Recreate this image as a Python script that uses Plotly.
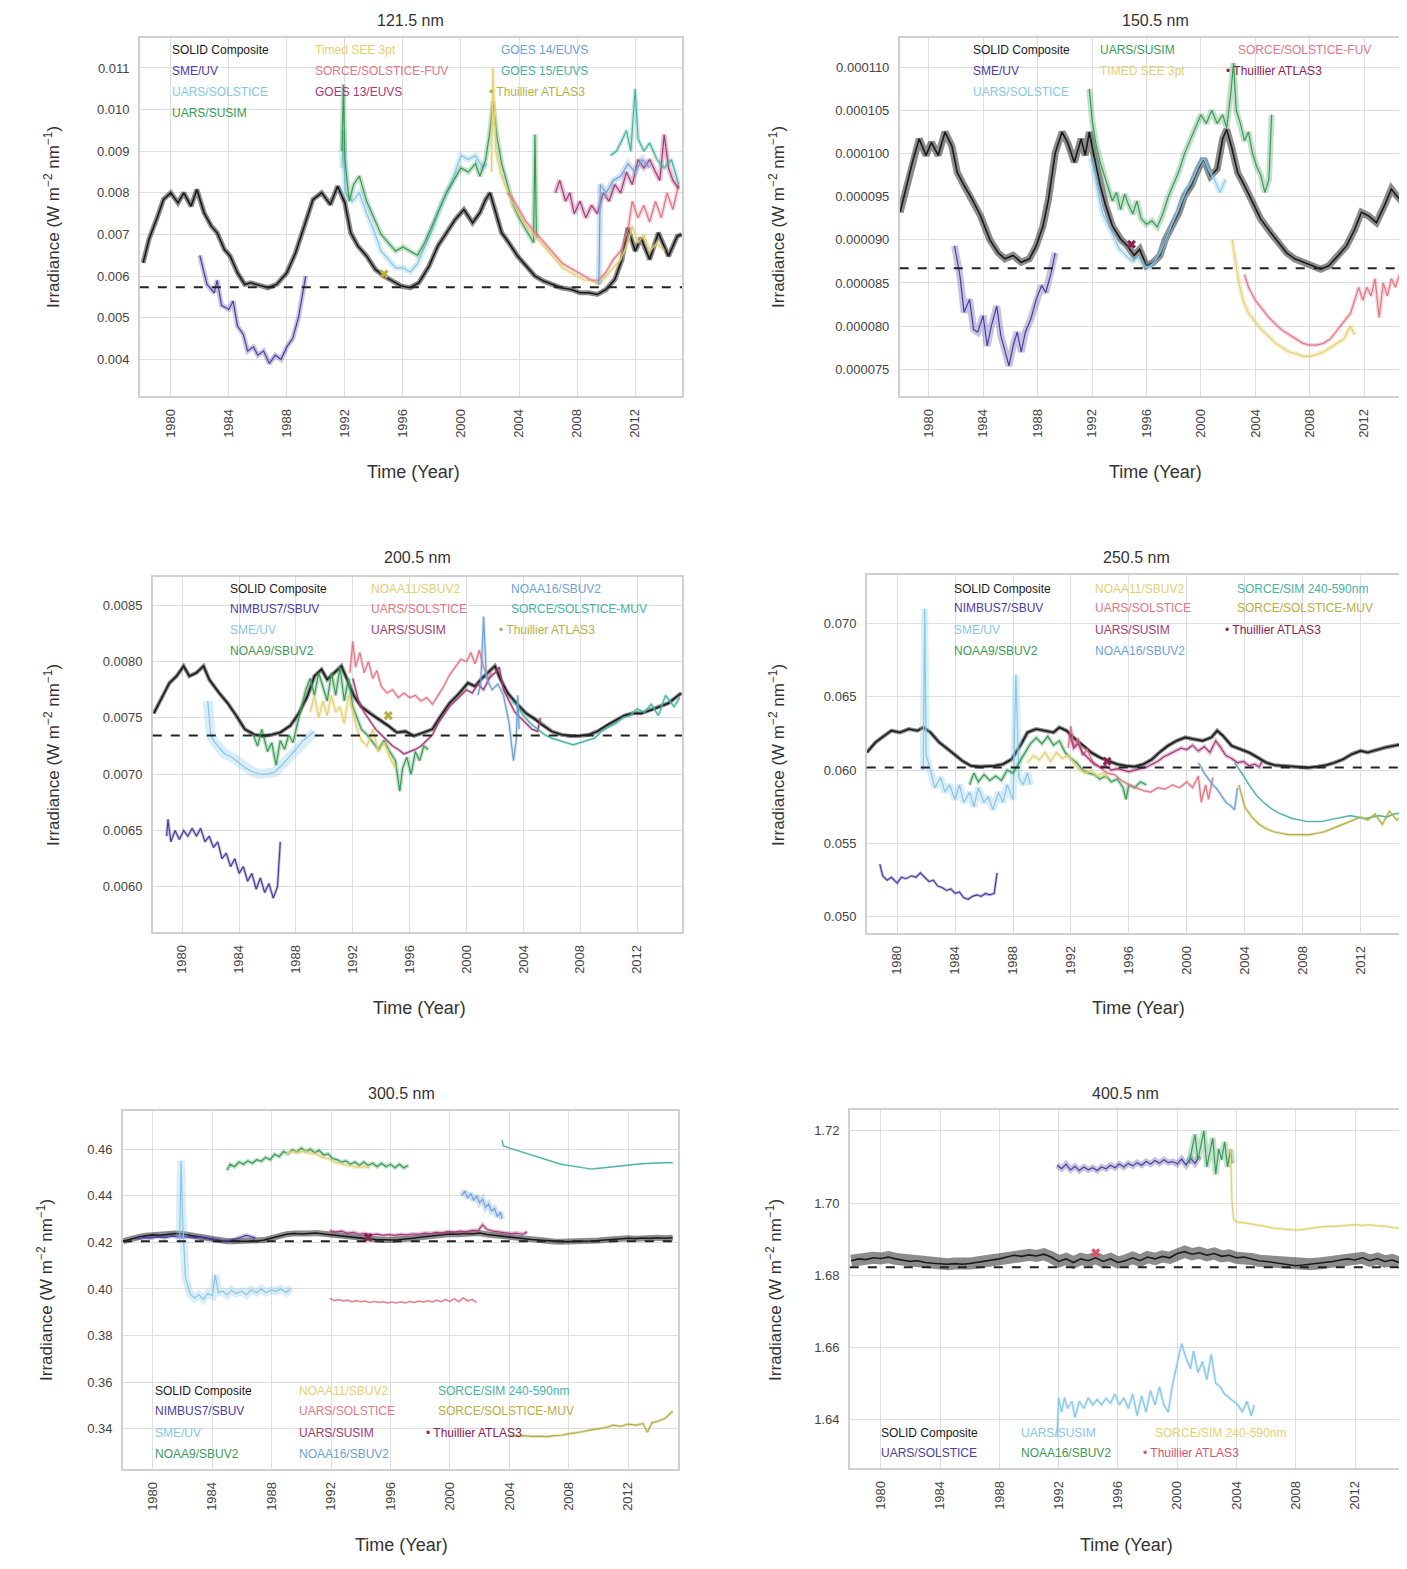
import plotly.graph_objects as go

# page size and the browser's default body margin
PAGE_W, PAGE_H = 1407, 1569
OFF = 8
W, H = PAGE_W - OFF, PAGE_H - 2 * OFF
FONT = 'Liberation Sans, Arial, sans-serif'

tick_years = [1980, 1984, 1988, 1992, 1996, 2000, 2004, 2008, 2012]

# colours
BLACK = '#1a1a1a'
INDIGO = '#4a3d9e'
SKY = '#86c6e8'
GREEN = '#3a9a55'
KHAKI = '#e3d070'
SALMON = '#e27786'
PLUM = '#a23a76'
STEEL = '#6d9fd6'
TEAL = '#45b3a3'
OLIVE = '#b5b044'
MAROON = '#8b2252'
RED = '#d9546a'

# ---------------- 121.5 nm ----------------
p1_solid_yr = [1978.1, 1978.5, 1979.1, 1979.5, 1980.0, 1980.5, 1980.9, 1981.4, 1981.8, 1982.3,
               1982.8, 1983.2, 1983.7, 1984.1, 1984.6, 1985.1, 1985.5, 1986.1, 1986.7, 1987.3,
               1988.0, 1988.6, 1989.2, 1989.8, 1990.4, 1991.0, 1991.5, 1992.0, 1992.4, 1992.9,
               1993.5, 1994.1, 1994.7, 1995.3, 1995.9, 1996.5, 1997.1, 1997.8, 1998.4, 1999.0,
               1999.6, 2000.2, 2000.8, 2001.3, 2001.7, 2002.0, 2002.4, 2002.8, 2003.3, 2003.9,
               2004.5, 2005.1, 2005.7, 2006.3, 2006.9, 2007.6, 2008.2, 2008.8, 2009.4, 2010.0,
               2010.6, 2011.1, 2011.5, 2012.0, 2012.4, 2013.0, 2013.6, 2014.3, 2014.9, 2015.2]
p1_solid = [0.00632, 0.00688, 0.00744, 0.00784, 0.0080, 0.00776, 0.0080, 0.00768, 0.00808, 0.00752,
            0.0072, 0.00704, 0.00664, 0.00648, 0.00608, 0.0058, 0.00584, 0.00578, 0.00572, 0.0058,
            0.00608, 0.00656, 0.0072, 0.00784, 0.0080, 0.00772, 0.00816, 0.00776, 0.00704, 0.00672,
            0.00648, 0.00616, 0.0060, 0.00588, 0.00576, 0.00572, 0.00584, 0.00624, 0.00672, 0.00704,
            0.00736, 0.0076, 0.00728, 0.00752, 0.00784, 0.0080, 0.00752, 0.00704, 0.0068, 0.00648,
            0.00624, 0.0060, 0.00588, 0.0058, 0.00572, 0.00568, 0.0056, 0.0056, 0.00556, 0.00568,
            0.00592, 0.0064, 0.00716, 0.0066, 0.00692, 0.0064, 0.00704, 0.00648, 0.00696, 0.0070]
p1_smeuv_yr = [1982.0, 1982.5, 1983.0, 1983.2, 1983.5, 1984.0, 1984.3, 1984.6, 1985.0, 1985.3, 1985.7,
               1986.0, 1986.4, 1986.8, 1987.2, 1987.6, 1988.0, 1988.4, 1988.8, 1989.1, 1989.3]
p1_smeuv = [0.0065, 0.0058, 0.0056, 0.0059, 0.0053, 0.0052, 0.0054, 0.0048, 0.0046, 0.0042, 0.0043,
            0.0041, 0.0042, 0.0039, 0.0041, 0.0040, 0.0043, 0.0045, 0.0050, 0.0056, 0.0060]
p1_susim_yr = [1991.8, 1991.9, 1992.0, 1992.3, 1992.6, 1993.0, 1993.5, 1994.0, 1994.5, 1995.0, 1995.5,
               1996.0, 1996.5, 1997.0, 1997.5, 1998.0, 1998.5, 1999.0, 1999.5, 2000.0, 2000.5, 2001.0,
               2001.3, 2001.7, 2002.0, 2002.2, 2002.5, 2002.8, 2003.2, 2003.6, 2004.0, 2004.5, 2005.0,
               2005.1, 2005.2]
p1_susim = [0.0090, 0.0106, 0.0088, 0.0078, 0.0082, 0.0084, 0.0078, 0.0074, 0.0070, 0.0068, 0.0066,
            0.0067, 0.0066, 0.0065, 0.0068, 0.0072, 0.0076, 0.0080, 0.0083, 0.0086, 0.0085, 0.0087,
            0.0084, 0.0088, 0.0095, 0.0102, 0.0093, 0.0087, 0.0082, 0.0077, 0.0074, 0.0071, 0.0068,
            0.0094, 0.0069]
p1_solstice_yr = [1991.8, 1991.9, 1992.0, 1992.5, 1993.0, 1993.5, 1994.0, 1994.5, 1995.0, 1995.5, 1996.0,
                  1996.5, 1997.0, 1997.5, 1998.0, 1998.5, 1999.0, 1999.5, 2000.0, 2000.5, 2001.0, 2001.5,
                  2001.8]
p1_solstice = [0.0086, 0.0095, 0.0080, 0.0078, 0.0080, 0.0075, 0.0071, 0.0066, 0.0064, 0.0062, 0.0062,
               0.0061, 0.0063, 0.0067, 0.0071, 0.0076, 0.0080, 0.0084, 0.0089, 0.0088, 0.0089, 0.0086,
               0.0087]
p1_timed_yr = [2002.1, 2002.2, 2002.4, 2002.7, 2003.0, 2003.5, 2004.0, 2004.5, 2005.0, 2005.5, 2006.0,
               2006.5, 2007.0, 2007.5, 2008.0, 2008.5, 2009.0, 2009.5, 2010.0, 2010.5, 2011.0, 2011.5,
               2011.8, 2012.2, 2012.6, 2013.0, 2013.5, 2014.0]
p1_timed = [0.0085, 0.0110, 0.0090, 0.0085, 0.0082, 0.0078, 0.0075, 0.0072, 0.0070, 0.0068, 0.0066,
            0.0064, 0.0062, 0.0061, 0.0060, 0.0059, 0.0059, 0.0058, 0.0060, 0.0062, 0.0064, 0.0068,
            0.0072, 0.0068, 0.0070, 0.0066, 0.0068, 0.0066]
p1_fuv_yr = [2003.2, 2003.5, 2004.0, 2004.5, 2005.0, 2005.5, 2006.0, 2006.5, 2007.0, 2007.5, 2008.0,
             2008.5, 2009.0, 2009.5, 2010.0, 2010.5, 2011.0, 2011.5, 2011.8, 2012.2, 2012.6, 2013.0,
             2013.4, 2013.8, 2014.2, 2014.6, 2015.0]
p1_fuv = [0.0080, 0.0079, 0.0076, 0.0073, 0.0071, 0.0069, 0.0067, 0.0065, 0.0063, 0.0062, 0.0061,
          0.0060, 0.0059, 0.0059, 0.0061, 0.0064, 0.0066, 0.0071, 0.0078, 0.0074, 0.0077, 0.0073,
          0.0078, 0.0074, 0.0080, 0.0076, 0.0082]
p1_goes13_yr = [2006.5, 2006.8, 2007.2, 2007.5, 2007.8, 2008.2, 2008.6, 2009.0, 2009.4, 2009.8, 2010.2,
                2010.6, 2011.0, 2011.4, 2011.8, 2012.2, 2012.6, 2013.0, 2013.4, 2013.7, 2014.0, 2014.3,
                2014.6, 2015.0]
p1_goes13 = [0.0080, 0.0083, 0.0078, 0.0080, 0.0075, 0.0078, 0.0074, 0.0077, 0.0075, 0.0080, 0.0078,
             0.0082, 0.0080, 0.0085, 0.0082, 0.0088, 0.0086, 0.0088, 0.0085, 0.0083, 0.0094, 0.0086,
             0.0083, 0.0081]
p1_goes14_yr = [2009.5, 2009.6, 2010.0, 2010.5, 2011.0, 2011.5, 2012.0, 2012.5, 2013.0]
p1_goes14 = [0.0058, 0.0082, 0.0080, 0.0083, 0.0084, 0.0087, 0.0085, 0.0088, 0.0086]
p1_goes15_yr = [2010.3, 2010.7, 2011.0, 2011.4, 2011.7, 2012.0, 2012.2, 2012.6, 2013.0, 2013.5, 2014.0,
                2014.5, 2015.0]
p1_goes15 = [0.0089, 0.0090, 0.0092, 0.0095, 0.0090, 0.0105, 0.0093, 0.0090, 0.0092, 0.0088, 0.0086,
             0.0088, 0.0082]
p1_thuillier_yr = [1994.7]
p1_thuillier = [0.00605]
p1_floor = 0.00573

# ---------------- 150.5 nm ----------------
p2_solid_yr = [1977.9, 1978.4, 1978.8, 1979.3, 1979.8, 1980.2, 1980.7, 1981.2, 1981.7, 1982.1,
               1982.6, 1983.2, 1983.8, 1984.5, 1985.1, 1985.6, 1986.2, 1986.8, 1987.4, 1987.9,
               1988.4, 1988.8, 1989.3, 1989.8, 1990.2, 1990.7, 1991.2, 1991.5, 1991.8, 1992.1,
               1992.6, 1993.0, 1993.5, 1994.1, 1994.6, 1995.1, 1995.5, 1996.0, 1996.5, 1997.0,
               1997.4, 1997.9, 1998.4, 1998.8, 1999.3, 1999.8, 2000.2, 2000.7, 2001.2, 2001.6,
               2001.9, 2002.3, 2002.7, 2003.2, 2003.8, 2004.4, 2005.1, 2005.7, 2006.3, 2006.9,
               2007.6, 2008.2, 2008.8, 2009.4, 2010.1, 2010.7, 2011.3, 2011.8, 2012.3, 2012.9,
               2013.5, 2014.0, 2014.4, 2015.0]
p2_solid = [93.2e-6, 96.3e-6, 99.0e-6, 101.7e-6, 99.8e-6, 101.3e-6, 99.8e-6, 102.5e-6, 100.9e-6, 97.8e-6,
            96.3e-6, 94.7e-6, 92.8e-6, 90.0e-6, 88.5e-6, 87.8e-6, 88.2e-6, 87.4e-6, 87.8e-6, 89.3e-6,
            91.6e-6, 94.7e-6, 100.1e-6, 102.5e-6, 101.3e-6, 99.0e-6, 101.7e-6, 99.8e-6, 102.5e-6, 100.1e-6,
            96.3e-6, 94.0e-6, 91.6e-6, 90.1e-6, 89.3e-6, 88.2e-6, 88.9e-6, 87.0e-6, 87.4e-6, 88.2e-6,
            90.1e-6, 91.6e-6, 93.2e-6, 95.1e-6, 96.3e-6, 98.2e-6, 99.4e-6, 97.4e-6, 98.2e-6, 101.7e-6,
            102.8e-6, 100.5e-6, 97.8e-6, 96.3e-6, 94.3e-6, 92.4e-6, 90.9e-6, 89.7e-6, 88.5e-6, 87.8e-6,
            87.4e-6, 87.0e-6, 86.6e-6, 87.0e-6, 88.2e-6, 89.3e-6, 91.2e-6, 93.2e-6, 92.8e-6, 92.0e-6,
            94.0e-6, 95.9e-6, 95.1e-6, 94.0e-6]
p2_smeuv_yr = [1981.9, 1982.0, 1982.3, 1982.6, 1983.0, 1983.3, 1983.6, 1984.0, 1984.3, 1984.6, 1985.0,
               1985.3, 1985.6, 1985.9, 1986.2, 1986.5, 1986.8, 1987.1, 1987.5, 1987.9, 1988.3, 1988.6,
               1989.0, 1989.3]
p2_smeuv = [89.3e-6, 88.5e-6, 85.8e-6, 81.6e-6, 83.1e-6, 79.6e-6, 79.3e-6, 81.2e-6, 77.7e-6, 80.0e-6,
            82.3e-6, 78.9e-6, 77.0e-6, 75.4e-6, 77.7e-6, 79.3e-6, 77.0e-6, 79.3e-6, 80.8e-6, 83.1e-6,
            84.7e-6, 83.9e-6, 86.2e-6, 88.5e-6]
p2_susim_yr = [1991.8, 1992.0, 1992.3, 1992.6, 1992.9, 1993.2, 1993.5, 1993.8, 1994.1, 1994.4, 1994.7,
               1995.0, 1995.3, 1995.6, 1996.0, 1996.4, 1996.8, 1997.2, 1997.6, 1998.0, 1998.4, 1998.8,
               1999.2, 1999.6, 2000.0, 2000.4, 2000.8, 2001.2, 2001.6, 2001.9, 2002.2, 2002.4, 2002.6,
               2002.9, 2003.2, 2003.5, 2003.8, 2004.1, 2004.4, 2004.7, 2005.0, 2005.2]
p2_susim = [107.5e-6, 104.0e-6, 101.0e-6, 99.0e-6, 97.5e-6, 96.0e-6, 94.5e-6, 95.5e-6, 93.5e-6, 95.3e-6,
            94.0e-6, 93.0e-6, 94.5e-6, 92.5e-6, 91.8e-6, 92.2e-6, 91.5e-6, 93.0e-6, 95.0e-6, 96.5e-6,
            98.0e-6, 100.0e-6, 101.5e-6, 103.0e-6, 104.5e-6, 103.5e-6, 105.0e-6, 103.5e-6, 104.5e-6,
            103.0e-6, 107.0e-6, 110.5e-6, 105.0e-6, 103.5e-6, 101.5e-6, 102.5e-6, 100.0e-6, 98.5e-6,
            97.5e-6, 95.5e-6, 97.0e-6, 104.5e-6]
p2_solstice_yr = [1991.9, 1992.2, 1992.5, 1992.8, 1993.1, 1993.4, 1993.7, 1994.0, 1994.3, 1994.6, 1995.0,
                  1995.4, 1995.8, 1996.2, 1996.6, 1997.0, 1997.4, 1997.8, 1998.2, 1998.6, 1999.0, 1999.4,
                  1999.8, 2000.2, 2000.6, 2001.0, 2001.4, 2001.8]
p2_solstice = [99.5e-6, 97.5e-6, 95.0e-6, 93.0e-6, 92.0e-6, 91.0e-6, 90.0e-6, 89.0e-6, 88.5e-6, 88.0e-6,
               87.5e-6, 88.0e-6, 87.0e-6, 86.8e-6, 87.5e-6, 88.5e-6, 90.0e-6, 91.5e-6, 93.0e-6, 94.5e-6,
               96.0e-6, 97.0e-6, 98.5e-6, 99.5e-6, 98.0e-6, 97.0e-6, 95.5e-6, 97.0e-6]
p2_timed_yr = [2002.3, 2002.5, 2002.8, 2003.1, 2003.5, 2004.0, 2004.5, 2005.0, 2005.5, 2006.0, 2006.5,
               2007.0, 2007.5, 2008.0, 2008.5, 2009.0, 2009.5, 2010.0, 2010.5, 2011.0, 2011.3]
p2_timed = [90.0e-6, 88.0e-6, 85.0e-6, 83.0e-6, 81.5e-6, 80.5e-6, 79.5e-6, 78.8e-6, 78.0e-6, 77.5e-6,
            77.0e-6, 76.8e-6, 76.5e-6, 76.5e-6, 76.7e-6, 77.0e-6, 77.5e-6, 78.0e-6, 78.5e-6, 80.0e-6,
            79.0e-6]
p2_fuv_yr = [2003.2, 2003.5, 2004.0, 2004.5, 2005.0, 2005.5, 2006.0, 2006.5, 2007.0, 2007.5, 2008.0,
             2008.5, 2009.0, 2009.5, 2010.0, 2010.5, 2011.0, 2011.3, 2011.6, 2011.9, 2012.2, 2012.5,
             2012.8, 2013.1, 2013.4, 2013.7, 2014.0, 2014.3, 2014.6, 2015.0]
p2_fuv = [86.0e-6, 84.5e-6, 83.0e-6, 82.0e-6, 81.0e-6, 80.2e-6, 79.5e-6, 79.0e-6, 78.5e-6, 78.0e-6,
          77.8e-6, 77.8e-6, 78.0e-6, 78.5e-6, 79.5e-6, 80.5e-6, 81.5e-6, 83.0e-6, 84.5e-6, 83.0e-6,
          84.5e-6, 83.5e-6, 85.5e-6, 81.0e-6, 85.0e-6, 83.5e-6, 85.5e-6, 84.5e-6, 86.0e-6, 85.0e-6]
p2_thuillier_yr = [1994.9]
p2_thuillier = [89.5e-6]
p2_floor = 86.7e-6

# ---------------- 200.5 nm ----------------
p3_solid_yr = [1978.0, 1978.5, 1979.1, 1979.6, 1980.1, 1980.5, 1981.0, 1981.5, 1981.9, 1982.6,
               1983.2, 1983.8, 1984.4, 1985.1, 1985.7, 1986.3, 1986.9, 1987.6, 1988.2, 1988.8,
               1989.3, 1989.8, 1990.2, 1990.7, 1991.2, 1991.6, 1992.1, 1992.6, 1993.2, 1993.8,
               1994.5, 1995.1, 1995.7, 1996.3, 1997.0, 1997.6, 1998.2, 1998.8, 1999.5, 2000.1,
               2000.6, 2001.0, 2001.5, 2002.0, 2002.4, 2002.9, 2003.5, 2004.2, 2004.8, 2005.4,
               2006.0, 2006.7, 2007.3, 2007.9, 2008.6, 2009.2, 2009.8, 2010.4, 2011.1, 2011.7,
               2012.3, 2013.0, 2013.6, 2014.2, 2014.8, 2015.1]
p3_solid = [0.00754, 0.00766, 0.00781, 0.00787, 0.00796, 0.00787, 0.00790, 0.00796, 0.00784, 0.00772,
            0.00763, 0.00752, 0.00740, 0.00735, 0.00734, 0.00735, 0.00737, 0.00743, 0.00754, 0.00769,
            0.00787, 0.00793, 0.00784, 0.00790, 0.00796, 0.00784, 0.00769, 0.00760, 0.00754, 0.00749,
            0.00743, 0.00737, 0.00738, 0.00734, 0.00737, 0.00740, 0.00752, 0.00763, 0.00772, 0.00781,
            0.00778, 0.00784, 0.00790, 0.00796, 0.00784, 0.00772, 0.00763, 0.00754, 0.00749, 0.00743,
            0.00738, 0.00735, 0.00734, 0.00734, 0.00735, 0.00738, 0.00743, 0.00747, 0.00752, 0.00754,
            0.00754, 0.00757, 0.00760, 0.00763, 0.00769, 0.00772]
p3_nimbus_yr = [1978.9, 1979.0, 1979.2, 1979.5, 1979.8, 1980.1, 1980.4, 1980.7, 1981.0, 1981.3, 1981.6,
                1981.9, 1982.2, 1982.5, 1982.8, 1983.1, 1983.4, 1983.7, 1984.0, 1984.3, 1984.6, 1984.9,
                1985.2, 1985.5, 1985.8, 1986.1, 1986.4, 1986.7, 1986.9]
p3_nimbus = [0.00645, 0.00660, 0.00640, 0.00650, 0.00642, 0.00650, 0.00645, 0.00652, 0.00645, 0.00652,
             0.00640, 0.00645, 0.00635, 0.00640, 0.00625, 0.00630, 0.00618, 0.00625, 0.00612, 0.00618,
             0.00605, 0.00612, 0.00598, 0.00608, 0.00595, 0.00603, 0.00590, 0.00600, 0.00640]
p3_smeuv_yr = [1981.8, 1982.0, 1982.3, 1982.7, 1983.0, 1983.5, 1984.0, 1984.5, 1985.0, 1985.5, 1986.0,
               1986.5, 1987.0, 1987.5, 1988.0, 1988.5, 1989.0, 1989.3]
p3_smeuv = [0.00765, 0.00735, 0.00728, 0.00722, 0.00718, 0.00715, 0.00710, 0.00705, 0.00702, 0.00700,
            0.00700, 0.00702, 0.00708, 0.00715, 0.00722, 0.00730, 0.00735, 0.00738]
p3_noaa9_yr = [1985.0, 1985.3, 1985.6, 1986.0, 1986.3, 1986.6, 1986.9, 1987.2, 1987.5, 1987.8, 1988.1,
               1988.4, 1988.7, 1989.0, 1989.3, 1989.6, 1989.9, 1990.2, 1990.5, 1990.8, 1991.1, 1991.4,
               1991.7, 1992.0, 1992.3, 1992.6, 1993.0, 1993.4, 1993.8, 1994.2, 1994.6, 1995.0, 1995.3,
               1995.5, 1995.8, 1996.1, 1996.4, 1996.7, 1997.0, 1997.3]
p3_noaa9 = [0.00735, 0.00725, 0.00740, 0.00720, 0.00728, 0.00708, 0.00730, 0.00722, 0.00735, 0.00728,
            0.00745, 0.00760, 0.00775, 0.00785, 0.00770, 0.00790, 0.00778, 0.00765, 0.00790, 0.00770,
            0.00795, 0.00765, 0.00785, 0.00760, 0.00750, 0.00740, 0.00735, 0.00728, 0.00722, 0.00730,
            0.00720, 0.00712, 0.00685, 0.00705, 0.00715, 0.00700, 0.00720, 0.00712, 0.00725, 0.00722]
p3_noaa11_yr = [1989.0, 1989.3, 1989.6, 1989.9, 1990.2, 1990.5, 1990.8, 1991.1, 1991.4, 1991.7, 1992.0,
                1992.3, 1992.6, 1993.0, 1993.4, 1993.8, 1994.2, 1994.6, 1995.0]
p3_noaa11 = [0.00755, 0.00770, 0.00750, 0.00765, 0.00752, 0.00770, 0.00755, 0.00760, 0.00745, 0.00770,
             0.00755, 0.00740, 0.00730, 0.00725, 0.00740, 0.00720, 0.00728, 0.00715, 0.00705]
p3_solstice_yr = [1991.8, 1992.0, 1992.2, 1992.5, 1992.8, 1993.1, 1993.4, 1993.7, 1994.0, 1994.4, 1994.8,
                  1995.2, 1995.6, 1996.0, 1996.4, 1996.8, 1997.2, 1997.6, 1998.0, 1998.4, 1998.8, 1999.2,
                  1999.6, 2000.0, 2000.3, 2000.6, 2000.9, 2001.2, 2001.5, 2001.8]
p3_solstice = [0.00790, 0.00818, 0.00795, 0.00808, 0.00790, 0.00800, 0.00785, 0.00792, 0.00778, 0.00772,
               0.00775, 0.00768, 0.00772, 0.00768, 0.00770, 0.00765, 0.00768, 0.00762, 0.00770, 0.00778,
               0.00788, 0.00795, 0.00802, 0.00800, 0.00808, 0.00798, 0.00810, 0.00795, 0.00785, 0.00790]
p3_susim_yr = [1992.0, 1992.4, 1992.8, 1993.2, 1993.6, 1994.0, 1994.4, 1994.8, 1995.2, 1995.6, 1996.0,
               1996.4, 1996.8, 1997.2, 1997.6, 1998.0, 1998.4, 1998.8, 1999.2, 1999.6, 2000.0, 2000.4,
               2000.8, 2001.2, 2001.6, 2002.0, 2002.3, 2002.6, 2003.0, 2003.4, 2003.8, 2004.2, 2004.6,
               2005.0, 2005.2]
p3_susim = [0.00785, 0.00765, 0.00755, 0.00748, 0.00740, 0.00735, 0.00730, 0.00725, 0.00722, 0.00718,
            0.00720, 0.00722, 0.00725, 0.00730, 0.00735, 0.00745, 0.00752, 0.00760, 0.00765, 0.00770,
            0.00775, 0.00772, 0.00780, 0.00775, 0.00785, 0.00790, 0.00795, 0.00775, 0.00765, 0.00755,
            0.00750, 0.00745, 0.00740, 0.00738, 0.00750]
p3_noaa16_yr = [2000.8, 2001.0, 2001.2, 2001.4, 2001.8, 2002.2, 2002.6, 2003.0, 2003.3, 2003.5, 2003.6,
                2003.7]
p3_noaa16 = [0.00770, 0.00780, 0.00840, 0.00785, 0.00775, 0.00780, 0.00770, 0.00745, 0.00712, 0.00730,
             0.00770, 0.00740]
p3_muv_yr = [2003.2, 2003.6, 2004.0, 2004.5, 2005.0, 2005.5, 2006.0, 2006.5, 2007.0, 2007.5, 2008.0,
             2008.5, 2009.0, 2009.5, 2010.0, 2010.5, 2011.0, 2011.5, 2012.0, 2012.5, 2013.0, 2013.5,
             2014.0, 2014.3, 2014.6, 2015.0]
p3_muv = [0.00765, 0.00760, 0.00752, 0.00745, 0.00740, 0.00735, 0.00732, 0.00730, 0.00728, 0.00726,
          0.00728, 0.00730, 0.00732, 0.00738, 0.00742, 0.00745, 0.00750, 0.00752, 0.00758, 0.00755,
          0.00762, 0.00752, 0.00770, 0.00765, 0.00760, 0.00768]
p3_thuillier_yr = [1994.5]
p3_thuillier = [0.00752]
p3_floor = 0.007344

# ---------------- 250.5 nm ----------------
p4_solid_yr = [1977.9, 1978.5, 1979.1, 1979.6, 1980.2, 1980.8, 1981.4, 1981.8, 1982.3, 1982.9,
               1983.5, 1984.1, 1984.5, 1985.1, 1985.8, 1986.7, 1987.3, 1987.9, 1988.5, 1989.0,
               1989.6, 1990.2, 1990.8, 1991.2, 1991.7, 1992.3, 1992.9, 1993.4, 1994.0, 1994.6,
               1995.2, 1995.8, 1996.4, 1997.0, 1997.6, 1998.1, 1998.7, 1999.3, 1999.9, 2000.5,
               2001.1, 2001.7, 2002.1, 2002.5, 2003.1, 2003.7, 2004.3, 2004.9, 2005.5, 2006.1,
               2006.7, 2007.2, 2007.8, 2008.4, 2009.0, 2009.6, 2010.2, 2010.8, 2011.4, 2012.0,
               2012.5, 2013.1, 2013.7, 2014.3, 2014.9]
p4_solid = [0.0612, 0.06189, 0.06234, 0.06269, 0.06257, 0.0628, 0.06269, 0.06291, 0.06257, 0.06189,
            0.06143, 0.06097, 0.06063, 0.06029, 0.06024, 0.06029, 0.0604, 0.06074, 0.06166, 0.06257,
            0.0628, 0.06269, 0.06257, 0.06291, 0.06269, 0.06211, 0.06166, 0.0612, 0.06086, 0.06063,
            0.0604, 0.06029, 0.06024, 0.0604, 0.06074, 0.0612, 0.06166, 0.062, 0.06223, 0.06211,
            0.062, 0.06223, 0.06269, 0.06234, 0.06166, 0.06143, 0.0612, 0.06086, 0.06051, 0.06033,
            0.06029, 0.06024, 0.06022, 0.06017, 0.06024, 0.06033, 0.06051, 0.06074, 0.06109, 0.06131,
            0.0612, 0.06138, 0.06154, 0.06166, 0.06177]
p4_nimbus_yr = [1978.8, 1979.0, 1979.3, 1979.6, 1980.0, 1980.3, 1980.6, 1981.0, 1981.3, 1981.6, 1981.9,
                1982.2, 1982.5, 1982.8, 1983.1, 1983.4, 1983.7, 1984.0, 1984.3, 1984.6, 1984.9, 1985.2,
                1985.5, 1985.8, 1986.1, 1986.4, 1986.7, 1986.9]
p4_nimbus = [0.0536, 0.0528, 0.0525, 0.0527, 0.0523, 0.0527, 0.0526, 0.0528, 0.0527, 0.0530, 0.0527,
             0.0524, 0.0525, 0.0521, 0.0520, 0.0518, 0.0519, 0.0516, 0.0517, 0.0513, 0.0512, 0.0514,
             0.0515, 0.0514, 0.0516, 0.0515, 0.0516, 0.0530]
p4_smeuv_yr = [1981.8, 1981.9, 1982.0, 1982.3, 1982.6, 1983.0, 1983.3, 1983.6, 1984.0, 1984.3, 1984.6,
               1985.0, 1985.3, 1985.6, 1986.0, 1986.3, 1986.6, 1987.0, 1987.3, 1987.6, 1988.0, 1988.2,
               1988.4, 1988.7, 1989.0, 1989.2]
p4_smeuv = [0.0600, 0.0710, 0.0610, 0.0600, 0.0588, 0.0595, 0.0585, 0.0590, 0.0580, 0.0590, 0.0578,
            0.0585, 0.0575, 0.0588, 0.0578, 0.0582, 0.0573, 0.0585, 0.0578, 0.0590, 0.0580, 0.0665,
            0.0595, 0.0590, 0.0598, 0.0590]
p4_noaa9_yr = [1985.0, 1985.3, 1985.6, 1986.0, 1986.4, 1986.8, 1987.2, 1987.6, 1988.0, 1988.4, 1988.8,
               1989.2, 1989.6, 1990.0, 1990.4, 1990.8, 1991.2, 1991.6, 1992.0, 1992.4, 1992.8, 1993.2,
               1993.6, 1994.0, 1994.4, 1994.8, 1995.2, 1995.6, 1995.8, 1996.0, 1996.4, 1996.8, 1997.2]
p4_noaa9 = [0.0590, 0.0598, 0.0592, 0.0597, 0.0593, 0.0596, 0.0593, 0.0600, 0.0598, 0.0605, 0.0612,
            0.0618, 0.0622, 0.0618, 0.0623, 0.0617, 0.0620, 0.0612, 0.0608, 0.0605, 0.0600, 0.0598,
            0.0597, 0.0594, 0.0596, 0.0592, 0.0594, 0.0588, 0.0580, 0.0590, 0.0588, 0.0592, 0.0590]
p4_noaa11_yr = [1989.0, 1989.4, 1989.8, 1990.2, 1990.6, 1991.0, 1991.4, 1991.8, 1992.2, 1992.6, 1993.0,
                1993.4, 1993.8, 1994.2, 1994.6]
p4_noaa11 = [0.0605, 0.0610, 0.0607, 0.0612, 0.0606, 0.0612, 0.0608, 0.0610, 0.0605, 0.0600, 0.0598,
             0.0600, 0.0596, 0.0598, 0.0595]
p4_solstice_yr = [1991.8, 1992.0, 1992.2, 1992.5, 1992.8, 1993.1, 1993.5, 1994.0, 1994.5, 1995.0, 1995.5,
                  1996.0, 1996.5, 1997.0, 1997.5, 1998.0, 1998.5, 1999.0, 1999.5, 2000.0, 2000.4, 2000.8,
                  2001.0, 2001.3, 2001.5, 2001.8]
p4_solstice = [0.0615, 0.0630, 0.0615, 0.0622, 0.0610, 0.0614, 0.0606, 0.0602, 0.0598, 0.0597, 0.0593,
               0.0590, 0.0588, 0.0586, 0.0585, 0.0588, 0.0587, 0.0590, 0.0588, 0.0592, 0.0588, 0.0596,
               0.0578, 0.0590, 0.0580, 0.0595]
p4_susim_yr = [1991.9, 1992.2, 1992.5, 1992.8, 1993.2, 1993.6, 1994.0, 1994.4, 1994.8, 1995.2, 1995.6,
               1996.0, 1996.4, 1996.8, 1997.2, 1997.6, 1998.0, 1998.4, 1998.8, 1999.2, 1999.6, 2000.0,
               2000.4, 2000.8, 2001.2, 2001.6, 2002.0, 2002.3, 2002.7, 2003.1, 2003.5, 2003.9, 2004.3,
               2004.7, 2005.0, 2005.2]
p4_susim = [0.0625, 0.0615, 0.0618, 0.0612, 0.0608, 0.0604, 0.0602, 0.0603, 0.0600, 0.0601, 0.0600,
            0.0599, 0.0600, 0.0601, 0.0602, 0.0604, 0.0606, 0.0609, 0.0611, 0.0613, 0.0615, 0.0614,
            0.0617, 0.0613, 0.0616, 0.0612, 0.0620, 0.0616, 0.0610, 0.0608, 0.0605, 0.0606, 0.0603,
            0.0604, 0.0602, 0.0606]
p4_noaa16_yr = [2000.8, 2001.0, 2001.2, 2001.5, 2001.8, 2002.1, 2002.4, 2002.7, 2003.0, 2003.3, 2003.5]
p4_noaa16 = [0.0605, 0.0602, 0.0598, 0.0594, 0.0590, 0.0587, 0.0582, 0.0578, 0.0576, 0.0573, 0.0588]
p4_sim_yr = [2003.3, 2003.8, 2004.3, 2004.8, 2005.3, 2005.8, 2006.3, 2006.8, 2007.3, 2007.8, 2008.3,
             2008.8, 2009.3, 2009.8, 2010.3, 2010.8, 2011.3, 2011.8, 2012.3, 2012.8, 2013.3, 2013.8,
             2014.3, 2014.8]
p4_sim = [0.0605, 0.0598, 0.0590, 0.0583, 0.0578, 0.0574, 0.0571, 0.0569, 0.0567, 0.0566, 0.0565,
          0.0565, 0.0565, 0.0566, 0.0567, 0.0568, 0.0569, 0.0568, 0.0567, 0.0568, 0.0569, 0.0568,
          0.0570, 0.0571]
p4_muv_yr = [2003.6, 2004.0, 2004.5, 2005.0, 2005.5, 2006.0, 2006.5, 2007.0, 2007.5, 2008.0, 2008.5,
             2009.0, 2009.5, 2010.0, 2010.5, 2011.0, 2011.5, 2012.0, 2012.5, 2013.0, 2013.5, 2014.0,
             2014.5, 2015.0]
p4_muv = [0.0590, 0.0575, 0.0568, 0.0563, 0.0560, 0.0558, 0.0557, 0.0556, 0.0556, 0.0556, 0.0556,
          0.0557, 0.0558, 0.0560, 0.0562, 0.0564, 0.0566, 0.0568, 0.0566, 0.0570, 0.0563, 0.0572,
          0.0566, 0.0570]
p4_thuillier_yr = [1994.5]
p4_thuillier = [0.0606]
p4_floor = 0.06018

# ---------------- 300.5 nm / 400.5 nm composite years ----------------
solid_half_yr = [1978.0, 1978.5, 1979.0, 1979.5, 1980.0, 1980.5, 1981.0, 1981.5, 1982.0, 1982.5,
                 1983.0, 1983.5, 1984.0, 1984.5, 1985.0, 1985.5, 1986.0, 1986.5, 1987.0, 1987.5,
                 1988.0, 1988.5, 1989.0, 1989.5, 1990.0, 1990.5, 1991.0, 1991.5, 1992.0, 1992.5,
                 1993.0, 1993.5, 1994.0, 1994.5, 1995.0, 1995.5, 1996.0, 1996.5, 1997.0, 1997.5,
                 1998.0, 1998.5, 1999.0, 1999.5, 2000.0, 2000.5, 2001.0, 2001.5, 2002.0, 2002.5,
                 2003.0, 2003.5, 2004.0, 2004.5, 2005.0, 2005.5, 2006.0, 2006.5, 2007.0, 2007.5,
                 2008.0, 2008.5, 2009.0, 2009.5, 2010.0, 2010.5, 2011.0, 2011.5, 2012.0, 2012.5,
                 2013.0, 2013.5, 2014.0, 2014.5, 2015.0]

# ---------------- 300.5 nm ----------------
p5_solid = [0.4205, 0.4215, 0.4222, 0.4228, 0.4232, 0.4230, 0.4235, 0.4238, 0.4236, 0.4230,
            0.4225, 0.4218, 0.4213, 0.4208, 0.4205, 0.4205, 0.4206, 0.4205, 0.4205, 0.4210,
            0.4218, 0.4228, 0.4235, 0.4238, 0.4236, 0.4238, 0.4240, 0.4236, 0.4232, 0.4228,
            0.4225, 0.4220, 0.4218, 0.4215, 0.4212, 0.4210, 0.4210, 0.4211, 0.4213, 0.4218,
            0.4222, 0.4226, 0.4230, 0.4233, 0.4236, 0.4235, 0.4238, 0.4236, 0.4240, 0.4234,
            0.4230, 0.4226, 0.4222, 0.4218, 0.4215, 0.4212, 0.4210, 0.4207, 0.4204, 0.4203,
            0.4203, 0.4203, 0.4204, 0.4206, 0.4208, 0.4211, 0.4214, 0.4216, 0.4218, 0.4216,
            0.4219, 0.4217, 0.4220, 0.4218, 0.4220]
p5_nimbus_yr = [1978.8, 1979.3, 1979.8, 1980.3, 1980.8, 1981.3, 1981.8, 1982.3, 1982.8, 1983.3, 1983.8,
                1984.3, 1984.8, 1985.3, 1985.8, 1986.3, 1986.6, 1986.9]
p5_nimbus = [0.4215, 0.4222, 0.4218, 0.4225, 0.4220, 0.4228, 0.4222, 0.4225, 0.4220, 0.4222, 0.4215,
             0.4212, 0.4205, 0.4210, 0.4220, 0.4230, 0.4225, 0.4218]
p5_smeuv_yr = [1981.8, 1981.9, 1982.0, 1982.2, 1982.5, 1982.8, 1983.1, 1983.4, 1983.7, 1984.0, 1984.2,
               1984.4, 1984.7, 1985.0, 1985.3, 1985.6, 1986.0, 1986.3, 1986.6, 1987.0, 1987.3, 1987.6,
               1988.0, 1988.3, 1988.6, 1989.0, 1989.3]
p5_smeuv = [0.4200, 0.4550, 0.4300, 0.4050, 0.3980, 0.3960, 0.3975, 0.3955, 0.3980, 0.3970, 0.4060,
            0.3985, 0.3990, 0.3975, 0.3995, 0.3980, 0.3990, 0.3975, 0.3995, 0.3985, 0.4000, 0.3985,
            0.3995, 0.3990, 0.4000, 0.3985, 0.4005]
p5_noaa9_yr = [1985.0, 1985.2, 1985.5, 1985.8, 1986.1, 1986.4, 1986.7, 1987.0, 1987.3, 1987.6, 1987.9,
               1988.2, 1988.5, 1988.8, 1989.1, 1989.4, 1989.7, 1990.0, 1990.3, 1990.6, 1990.9, 1991.2,
               1991.5, 1991.8, 1992.1, 1992.4, 1992.7, 1993.0, 1993.3, 1993.6, 1993.9, 1994.2, 1994.5,
               1994.8, 1995.1, 1995.4, 1995.7, 1996.0, 1996.3, 1996.6, 1996.9, 1997.2]
p5_noaa9 = [0.4510, 0.4535, 0.4525, 0.4545, 0.4535, 0.4550, 0.4540, 0.4555, 0.4548, 0.4565, 0.4555,
            0.4578, 0.4568, 0.4590, 0.4580, 0.4598, 0.4588, 0.4605, 0.4590, 0.4600, 0.4585, 0.4595,
            0.4575, 0.4580, 0.4560, 0.4555, 0.4545, 0.4550, 0.4535, 0.4545, 0.4530, 0.4545, 0.4530,
            0.4540, 0.4525, 0.4540, 0.4525, 0.4535, 0.4520, 0.4535, 0.4520, 0.4530]
p5_noaa11_yr = [1989.0, 1989.4, 1989.8, 1990.2, 1990.6, 1991.0, 1991.4, 1991.8, 1992.2, 1992.6, 1993.0,
                1993.4, 1993.8, 1994.2, 1994.6]
p5_noaa11 = [0.4580, 0.4590, 0.4585, 0.4592, 0.4582, 0.4580, 0.4565, 0.4560, 0.4545, 0.4540, 0.4530,
             0.4528, 0.4522, 0.4525, 0.4520]
p5_solstice_yr = [1991.9, 1992.2, 1992.5, 1992.8, 1993.1, 1993.4, 1993.7, 1994.0, 1994.3, 1994.6, 1994.9,
                  1995.2, 1995.5, 1995.8, 1996.1, 1996.4, 1996.7, 1997.0, 1997.3, 1997.6, 1997.9, 1998.2,
                  1998.5, 1998.8, 1999.1, 1999.4, 1999.7, 2000.0, 2000.3, 2000.6, 2000.9, 2001.2, 2001.5,
                  2001.8]
p5_solstice = [0.3960, 0.3950, 0.3955, 0.3948, 0.3952, 0.3945, 0.3950, 0.3945, 0.3948, 0.3942, 0.3946,
               0.3942, 0.3945, 0.3940, 0.3944, 0.3940, 0.3945, 0.3940, 0.3946, 0.3942, 0.3948, 0.3943,
               0.3950, 0.3944, 0.3952, 0.3945, 0.3955, 0.3946, 0.3958, 0.3945, 0.3962, 0.3948, 0.3955,
               0.3942]
p5_susim_yr = [1991.9, 1992.3, 1992.7, 1993.1, 1993.5, 1993.9, 1994.3, 1994.7, 1995.1, 1995.5, 1995.9,
               1996.3, 1996.7, 1997.1, 1997.5, 1997.9, 1998.3, 1998.7, 1999.1, 1999.5, 1999.9, 2000.3,
               2000.7, 2001.1, 2001.5, 2001.9, 2002.2, 2002.5, 2002.9, 2003.3, 2003.7, 2004.1, 2004.5,
               2004.9, 2005.2]
p5_susim = [0.4250, 0.4245, 0.4248, 0.4240, 0.4243, 0.4235, 0.4238, 0.4232, 0.4235, 0.4230, 0.4233,
            0.4230, 0.4234, 0.4232, 0.4236, 0.4235, 0.4240, 0.4238, 0.4243, 0.4240, 0.4246, 0.4243,
            0.4248, 0.4245, 0.4252, 0.4250, 0.4275, 0.4255, 0.4248, 0.4245, 0.4240, 0.4238, 0.4240,
            0.4235, 0.4245]
p5_noaa16_yr = [2000.8, 2001.0, 2001.2, 2001.4, 2001.6, 2001.8, 2002.0, 2002.2, 2002.4, 2002.6, 2002.8,
                2003.0, 2003.2, 2003.4, 2003.5]
p5_noaa16 = [0.4400, 0.4420, 0.4390, 0.4410, 0.4380, 0.4400, 0.4370, 0.4385, 0.4350, 0.4365, 0.4335,
             0.4345, 0.4310, 0.4330, 0.4300]
p5_sim_yr = [2003.5, 2003.6, 2004.0, 2004.5, 2005.0, 2005.5, 2006.0, 2006.5, 2007.0, 2007.5, 2008.0,
             2008.5, 2009.0, 2009.5, 2010.0, 2010.5, 2011.0, 2011.5, 2012.0, 2012.5, 2013.0, 2013.5,
             2014.0, 2014.5, 2015.0]
p5_sim = [0.4640, 0.4615, 0.4605, 0.4595, 0.4585, 0.4575, 0.4565, 0.4555, 0.4545, 0.4535, 0.4530,
          0.4525, 0.4520, 0.4515, 0.4518, 0.4522, 0.4525, 0.4528, 0.4532, 0.4535, 0.4538, 0.4540,
          0.4540, 0.4542, 0.4542]
p5_muv_yr = [2004.0, 2004.5, 2005.0, 2005.5, 2006.0, 2006.5, 2007.0, 2007.5, 2008.0, 2008.5, 2009.0,
             2009.5, 2010.0, 2010.5, 2011.0, 2011.5, 2012.0, 2012.5, 2013.0, 2013.3, 2013.6, 2014.0,
             2014.5, 2015.0]
p5_muv = [0.3370, 0.3368, 0.3370, 0.3367, 0.3368, 0.3366, 0.3370, 0.3372, 0.3378, 0.3382, 0.3388,
          0.3395, 0.3400, 0.3405, 0.3415, 0.3410, 0.3420, 0.3415, 0.3422, 0.3385, 0.3425, 0.3432,
          0.3445, 0.3475]
p5_thuillier_yr = [1994.5]
p5_thuillier = [0.4222]
p5_floor = 0.4205

# ---------------- 400.5 nm ----------------
p6_solid = [1.6840, 1.6845, 1.6843, 1.6848, 1.6846, 1.6850, 1.6845, 1.6842, 1.6838, 1.6840,
            1.6835, 1.6833, 1.6832, 1.6830, 1.6832, 1.6830, 1.6832, 1.6835, 1.6838, 1.6842,
            1.6845, 1.6850, 1.6855, 1.6852, 1.6856, 1.6853, 1.6858, 1.6850, 1.6838, 1.6845,
            1.6835, 1.6845, 1.6840, 1.6848, 1.6838, 1.6845, 1.6835, 1.6840, 1.6848, 1.6840,
            1.6850, 1.6845, 1.6852, 1.6848, 1.6860, 1.6865, 1.6858, 1.6862, 1.6855, 1.6860,
            1.6852, 1.6855, 1.6848, 1.6850, 1.6845, 1.6840, 1.6838, 1.6835, 1.6832, 1.6828,
            1.6826, 1.6828, 1.6830, 1.6832, 1.6835, 1.6838, 1.6842, 1.6845, 1.6842, 1.6848,
            1.6840, 1.6846, 1.6838, 1.6842, 1.6835]
p6_solstice_yr = [1991.9, 1992.2, 1992.5, 1992.8, 1993.1, 1993.4, 1993.7, 1994.0, 1994.3, 1994.6, 1994.9,
                  1995.2, 1995.5, 1995.8, 1996.1, 1996.4, 1996.7, 1997.0, 1997.3, 1997.6, 1997.9, 1998.2,
                  1998.5, 1998.8, 1999.1, 1999.4, 1999.7, 2000.0, 2000.3, 2000.6, 2000.9, 2001.2, 2001.5]
p6_solstice = [1.7105, 1.7095, 1.7108, 1.7092, 1.7102, 1.7090, 1.7100, 1.7092, 1.7098, 1.7090, 1.7100,
               1.7095, 1.7105, 1.7098, 1.7108, 1.7100, 1.7110, 1.7103, 1.7112, 1.7105, 1.7115, 1.7108,
               1.7118, 1.7110, 1.7120, 1.7112, 1.7115, 1.7108, 1.7122, 1.7105, 1.7125, 1.7110, 1.7130]
p6_noaa16_yr = [2000.8, 2001.0, 2001.2, 2001.4, 2001.6, 2001.8, 2002.0, 2002.2, 2002.4, 2002.6, 2002.8,
                2003.0, 2003.2, 2003.4, 2003.6, 2003.7]
p6_noaa16 = [1.7110, 1.7150, 1.7190, 1.7120, 1.7160, 1.7200, 1.7100, 1.7140, 1.7180, 1.7080, 1.7150,
             1.7120, 1.7170, 1.7100, 1.7150, 1.7110]
p6_sim_yr = [2003.6, 2003.7, 2003.8, 2004.0, 2004.5, 2005.0, 2005.5, 2006.0, 2006.5, 2007.0, 2007.5,
             2008.0, 2008.5, 2009.0, 2009.5, 2010.0, 2010.5, 2011.0, 2011.5, 2012.0, 2012.5, 2013.0,
             2013.5, 2014.0, 2014.5, 2015.0]
p6_sim = [1.7150, 1.7000, 1.6955, 1.6948, 1.6945, 1.6942, 1.6940, 1.6935, 1.6930, 1.6928, 1.6925,
          1.6925, 1.6927, 1.6930, 1.6932, 1.6935, 1.6935, 1.6937, 1.6938, 1.6940, 1.6938, 1.6940,
          1.6937, 1.6936, 1.6932, 1.6930]
p6_susim_yr = [1991.9, 1992.0, 1992.2, 1992.4, 1992.6, 1992.9, 1993.1, 1993.4, 1993.7, 1994.0, 1994.3,
               1994.6, 1994.9, 1995.2, 1995.5, 1995.8, 1996.1, 1996.4, 1996.7, 1997.0, 1997.3, 1997.6,
               1997.9, 1998.2, 1998.5, 1998.8, 1999.1, 1999.4, 1999.7, 2000.0, 2000.3, 2000.6, 2000.9,
               2001.1, 2001.4, 2001.7, 2002.0, 2002.3, 2002.6, 2002.9, 2003.2, 2003.5, 2003.8, 2004.1,
               2004.4, 2004.7, 2005.0, 2005.2]
p6_susim = [1.6350, 1.6460, 1.6420, 1.6460, 1.6430, 1.6450, 1.6405, 1.6450, 1.6430, 1.6460, 1.6440,
            1.6455, 1.6440, 1.6458, 1.6445, 1.6470, 1.6440, 1.6460, 1.6430, 1.6470, 1.6410, 1.6465,
            1.6420, 1.6480, 1.6440, 1.6490, 1.6440, 1.6420, 1.6500, 1.6560, 1.6610, 1.6570, 1.6540,
            1.6590, 1.6530, 1.6560, 1.6510, 1.6580, 1.6500, 1.6490, 1.6470, 1.6460, 1.6450, 1.6440,
            1.6420, 1.6450, 1.6410, 1.6440]
p6_thuillier_yr = [1994.5]
p6_thuillier = [1.6862]
p6_floor = 1.6822


# page pixel -> paper fraction (the figure starts OFF px into the page)
def px_x(p):
    return (p - OFF) / W


def px_y(p):
    return 1 - (p - OFF) / H


fig = go.Figure()


def add_line(n, x, y, color, band=5, band_op=0.3, width=1.2):
    assert len(x) == len(y)
    xa, ya = ('x', 'y') if n == 1 else ('x%d' % n, 'y%d' % n)
    fig.add_trace(go.Scatter(x=x, y=y, mode='lines', line=dict(color=color, width=band),
                             opacity=band_op, xaxis=xa, yaxis=ya, hoverinfo='skip', showlegend=False))
    fig.add_trace(go.Scatter(x=x, y=y, mode='lines', line=dict(color=color, width=width),
                             xaxis=xa, yaxis=ya, showlegend=False))


def add_mark(n, x, y, color):
    xa, ya = ('x', 'y') if n == 1 else ('x%d' % n, 'y%d' % n)
    fig.add_trace(go.Scatter(x=x, y=y, mode='markers',
                             marker=dict(symbol='x', size=8, color=color),
                             xaxis=xa, yaxis=ya, showlegend=False))


def ann(x, y, text, size, color, angle=0, xanchor='center'):
    fig.add_annotation(x=px_x(x), y=px_y(y), xref='paper', yref='paper', text=text,
                       showarrow=False, textangle=angle, xanchor=xanchor, yanchor='middle',
                       font=dict(family=FONT, size=size, color=color))


BULLET = '\u2022 Thuillier ATLAS3'

panels = [
    dict(n=1, dx=(140, 683), dy=(38, 396), xr=[1977.87, 2015.23], yr=[0.00312, 0.01172],
         yt=[0.004, 0.005, 0.006, 0.007, 0.008, 0.009, 0.010, 0.011], fmt='.3f',
         title='121.5 nm', tpos=(411, 20), ypos=(52, 217), xpos=(414, 472), floor=p1_floor,
         solid=(p1_solid_yr, p1_solid, 5),
         lines=[(p1_smeuv_yr, p1_smeuv, INDIGO, 5), (p1_solstice_yr, p1_solstice, SKY, 6),
                (p1_susim_yr, p1_susim, GREEN, 5), (p1_timed_yr, p1_timed, KHAKI, 4),
                (p1_fuv_yr, p1_fuv, SALMON, 4), (p1_goes13_yr, p1_goes13, PLUM, 5),
                (p1_goes14_yr, p1_goes14, STEEL, 6), (p1_goes15_yr, p1_goes15, TEAL, 4)],
         mark=(p1_thuillier_yr, p1_thuillier, OLIVE),
         lcols=[170, 313, 500], lrows=[50, 71, 92, 113],
         legend=[(0, 0, 'SOLID Composite', BLACK), (0, 1, 'SME/UV', INDIGO),
                 (0, 2, 'UARS/SOLSTICE', SKY), (0, 3, 'UARS/SUSIM', GREEN),
                 (1, 0, 'Timed SEE 3pt', KHAKI), (1, 1, 'SORCE/SOLSTICE-FUV', SALMON),
                 (1, 2, 'GOES 13/EUVS', PLUM), (2, 0, 'GOES 14/EUVS', STEEL),
                 (2, 1, 'GOES 15/EUVS', TEAL), (2, 2, BULLET, OLIVE)]),
    dict(n=2, dx=(901, 1407), dy=(38, 396), xr=[1977.87, 2015.0], yr=[71.9e-6, 113.4e-6],
         yt=[75e-6, 80e-6, 85e-6, 90e-6, 95e-6, 100e-6, 105e-6, 110e-6], fmt='.6f',
         title='150.5 nm', tpos=(1157, 20), ypos=(778, 217), xpos=(1157, 472), floor=p2_floor,
         solid=(p2_solid_yr, p2_solid, 7),
         lines=[(p2_smeuv_yr, p2_smeuv, INDIGO, 7), (p2_solstice_yr, p2_solstice, SKY, 6),
                (p2_susim_yr, p2_susim, GREEN, 6), (p2_timed_yr, p2_timed, KHAKI, 5),
                (p2_fuv_yr, p2_fuv, SALMON, 4)],
         mark=(p2_thuillier_yr, p2_thuillier, MAROON),
         lcols=[972, 1100, 1238], lrows=[50, 71, 92],
         legend=[(0, 0, 'SOLID Composite', BLACK), (0, 1, 'SME/UV', INDIGO),
                 (0, 2, 'UARS/SOLSTICE', SKY), (1, 0, 'UARS/SUSIM', GREEN),
                 (1, 1, 'TIMED SEE 3pt', KHAKI), (2, 0, 'SORCE/SOLSTICE-FUV', SALMON),
                 (2, 1, BULLET, MAROON)]),
    dict(n=3, dx=(153, 683), dy=(577, 932), xr=[1977.93, 2015.16], yr=[0.0056, 0.00875],
         yt=[0.0060, 0.0065, 0.0070, 0.0075, 0.0080, 0.0085], fmt='.4f',
         title='200.5 nm', tpos=(418, 557), ypos=(52, 755), xpos=(420, 1008), floor=p3_floor,
         solid=(p3_solid_yr, p3_solid, 4),
         lines=[(p3_nimbus_yr, p3_nimbus, INDIGO, 3), (p3_smeuv_yr, p3_smeuv, SKY, 10),
                (p3_noaa9_yr, p3_noaa9, GREEN, 4), (p3_noaa11_yr, p3_noaa11, KHAKI, 4),
                (p3_solstice_yr, p3_solstice, SALMON, 3), (p3_susim_yr, p3_susim, PLUM, 3),
                (p3_noaa16_yr, p3_noaa16, STEEL, 3), (p3_muv_yr, p3_muv, TEAL, 3)],
         mark=(p3_thuillier_yr, p3_thuillier, OLIVE),
         lcols=[228, 370, 510], lrows=[589, 609, 630, 651],
         legend=[(0, 0, 'SOLID Composite', BLACK), (0, 1, 'NIMBUS7/SBUV', INDIGO),
                 (0, 2, 'SME/UV', SKY), (0, 3, 'NOAA9/SBUV2', GREEN),
                 (1, 0, 'NOAA11/SBUV2', KHAKI), (1, 1, 'UARS/SOLSTICE', SALMON),
                 (1, 2, 'UARS/SUSIM', PLUM), (2, 0, 'NOAA16/SBUV2', STEEL),
                 (2, 1, 'SORCE/SOLSTICE-MUV', TEAL), (2, 2, BULLET, OLIVE)]),
    dict(n=4, dx=(868, 1407), dy=(575, 933), xr=[1977.9, 2015.07], yr=[0.0489, 0.0733],
         yt=[0.050, 0.055, 0.060, 0.065, 0.070], fmt='.3f',
         title='250.5 nm', tpos=(1138, 557), ypos=(778, 755), xpos=(1140, 1008), floor=p4_floor,
         solid=(p4_solid_yr, p4_solid, 4),
         lines=[(p4_nimbus_yr, p4_nimbus, INDIGO, 3), (p4_smeuv_yr, p4_smeuv, SKY, 7),
                (p4_noaa9_yr, p4_noaa9, GREEN, 4), (p4_noaa11_yr, p4_noaa11, KHAKI, 4),
                (p4_solstice_yr, p4_solstice, SALMON, 3), (p4_susim_yr, p4_susim, PLUM, 4),
                (p4_noaa16_yr, p4_noaa16, STEEL, 3), (p4_sim_yr, p4_sim, TEAL, 2),
                (p4_muv_yr, p4_muv, OLIVE, 3)],
         mark=(p4_thuillier_yr, p4_thuillier, MAROON),
         lcols=[953, 1095, 1237], lrows=[589, 608, 630, 651],
         legend=[(0, 0, 'SOLID Composite', BLACK), (0, 1, 'NIMBUS7/SBUV', INDIGO),
                 (0, 2, 'SME/UV', SKY), (0, 3, 'NOAA9/SBUV2', GREEN),
                 (1, 0, 'NOAA11/SBUV2', KHAKI), (1, 1, 'UARS/SOLSTICE', SALMON),
                 (1, 2, 'UARS/SUSIM', PLUM), (1, 3, 'NOAA16/SBUV2', STEEL),
                 (2, 0, 'SORCE/SIM 240-590nm', TEAL), (2, 1, 'SORCE/SOLSTICE-MUV', OLIVE),
                 (2, 2, BULLET, MAROON)]),
    dict(n=5, dx=(123, 679), dy=(1111, 1469), xr=[1977.98, 2015.36], yr=[0.3227, 0.4764],
         yt=[0.34, 0.36, 0.38, 0.40, 0.42, 0.44, 0.46], fmt='.2f',
         title='300.5 nm', tpos=(402, 1093), ypos=(45, 1290), xpos=(402, 1545), floor=p5_floor,
         solid=(solid_half_yr, p5_solid, 6),
         lines=[(p5_nimbus_yr, p5_nimbus, INDIGO, 4), (p5_smeuv_yr, p5_smeuv, SKY, 8),
                (p5_noaa9_yr, p5_noaa9, GREEN, 4), (p5_noaa11_yr, p5_noaa11, KHAKI, 4),
                (p5_solstice_yr, p5_solstice, SALMON, 2), (p5_susim_yr, p5_susim, PLUM, 4),
                (p5_noaa16_yr, p5_noaa16, STEEL, 6), (p5_sim_yr, p5_sim, TEAL, 2),
                (p5_muv_yr, p5_muv, OLIVE, 3)],
         mark=(p5_thuillier_yr, p5_thuillier, MAROON),
         lcols=[153, 297, 437], lrows=[1391, 1411, 1433, 1454],
         legend=[(0, 0, 'SOLID Composite', BLACK), (0, 1, 'NIMBUS7/SBUV', INDIGO),
                 (0, 2, 'SME/UV', SKY), (0, 3, 'NOAA9/SBUV2', GREEN),
                 (1, 0, 'NOAA11/SBUV2', KHAKI), (1, 1, 'UARS/SOLSTICE', SALMON),
                 (1, 2, 'UARS/SUSIM', PLUM), (1, 3, 'NOAA16/SBUV2', STEEL),
                 (2, 0, 'SORCE/SIM 240-590nm', TEAL), (2, 1, 'SORCE/SOLSTICE-MUV', OLIVE),
                 (2, 2, BULLET, MAROON)]),
    dict(n=6, dx=(851, 1407), dy=(1110, 1468), xr=[1977.91, 2015.37], yr=[1.6265, 1.7258],
         yt=[1.64, 1.66, 1.68, 1.70, 1.72], fmt='.2f',
         title='400.5 nm', tpos=(1127, 1093), ypos=(775, 1290), xpos=(1128, 1545), floor=p6_floor,
         solid=(solid_half_yr, p6_solid, 12),
         lines=[(p6_solstice_yr, p6_solstice, INDIGO, 6), (p6_susim_yr, p6_susim, SKY, 3),
                (p6_noaa16_yr, p6_noaa16, GREEN, 6), (p6_sim_yr, p6_sim, KHAKI, 3)],
         mark=(p6_thuillier_yr, p6_thuillier, RED),
         lcols=[880, 1020, 1155], lrows=[1433, 1453],
         legend=[(0, 0, 'SOLID Composite', BLACK), (0, 1, 'UARS/SOLSTICE', INDIGO),
                 (1, 0, 'UARS/SUSIM', SKY), (1, 1, 'NOAA16/SBUV2', GREEN),
                 (2, 0, 'SORCE/SIM 240-590nm', KHAKI), (2, 1, BULLET, RED)]),
]

GRID = '#dedede'
FRAME = '#d0d0d0'
TICKC = '#444444'

for p in panels:
    n = p['n']
    sx = '' if n == 1 else str(n)
    xname, yname = 'x' + sx, 'y' + sx
    fig.layout['xaxis' + sx] = dict(
        domain=[px_x(p['dx'][0]), min(1.0, px_x(p['dx'][1]))], range=p['xr'], anchor=yname,
        tickvals=tick_years, ticktext=[str(t) for t in tick_years], tickangle=-90,
        showgrid=True, gridcolor=GRID, gridwidth=1.2, zeroline=False,
        showline=True, linecolor=FRAME, linewidth=1.5, mirror=True,
        ticks='outside', ticklen=6, tickcolor='rgba(0,0,0,0)',
        tickfont=dict(family=FONT, size=13, color=TICKC))
    fig.layout['yaxis' + sx] = dict(
        domain=[px_y(p['dy'][1]), px_y(p['dy'][0])], range=p['yr'], anchor=xname,
        tickvals=p['yt'], tickformat=p['fmt'],
        showgrid=True, gridcolor=GRID, gridwidth=1.2, zeroline=False,
        showline=True, linecolor=FRAME, linewidth=1.5, mirror=True,
        ticks='outside', ticklen=6, tickcolor='rgba(0,0,0,0)',
        tickfont=dict(family=FONT, size=13, color=TICKC))

    sx_yr, sv, sband = p['solid']
    add_line(n, sx_yr, sv, BLACK, band=sband, band_op=0.5, width=1.6)
    for lx, ly, col, band in p['lines']:
        add_line(n, lx, ly, col, band=band)
    mx, my, mcol = p['mark']
    add_mark(n, mx, my, mcol)

    fig.add_shape(type='line', xref=xname + ' domain', yref=yname, x0=0, x1=1,
                  y0=p['floor'], y1=p['floor'], layer='above',
                  line=dict(color='#222222', width=2, dash='dash'))

    ann(p['tpos'][0], p['tpos'][1], p['title'], 16, '#333333')
    ann(p['ypos'][0], p['ypos'][1], 'Irradiance (W m<sup>\u22122</sup> nm<sup>\u22121</sup>)',
        17, '#333333', angle=-90)
    ann(p['xpos'][0], p['xpos'][1], 'Time (Year)', 18, '#333333')

    for ci, ri, text, col in p['legend']:
        lx = p['lcols'][ci] - (12 if text.startswith('\u2022') else 0)
        ann(lx, p['lrows'][ri], text, 12, col, xanchor='left')

fig.update_layout(width=W, height=H, margin=dict(l=0, r=0, t=0, b=0),
                  paper_bgcolor='white', plot_bgcolor='white',
                  font=dict(family=FONT), showlegend=False)

fig.write_html('out.html')
